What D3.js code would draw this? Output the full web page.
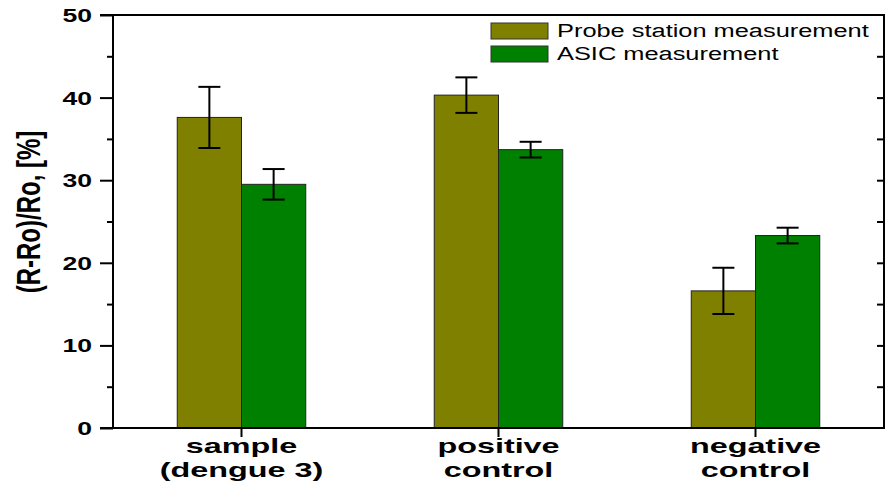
<!DOCTYPE html>
<html>
<head>
<meta charset="utf-8">
<script src="https://cdn.jsdelivr.net/npm/d3@7"></script>
<style>
  body { margin: 0; background: #fff; }
  svg { display: block; font-family: 'Liberation Sans', Arial, sans-serif; }
</style>
</head>
<body>
<svg id="chart" width="885" height="490"></svg>
<script>
const categories = [['sample', '(dengue 3)'], ['positive', 'control'], ['negative', 'control']];
const seriesNames = ['Probe station measurement', 'ASIC measurement'];
const probeValues = [37.6, 40.3, 16.6];
const probeErrors = [3.7, 2.15, 2.8];
const asicValues = [29.5, 33.7, 23.3];
const asicErrors = [1.85, 0.95, 0.95];
const yTicks = [0, 10, 20, 30, 40, 50];
const colors = ['#808000', '#008000'];

window.onload = function() {
    drawChart();
};

function drawChart() {
    let svg = d3.select('#chart');
    let left = 113, right = 884, top = 15, bottom = 428;

    let x = d3.scaleBand()
        .domain(d3.range(categories.length))
        .range([left, right])
        .paddingInner(0.5)
        .paddingOuter(0.25);

    let xSub = d3.scaleBand()
        .domain([0, 1])
        .range([0, x.bandwidth()]);

    let y = d3.scaleLinear()
        .domain([0, 50])
        .range([bottom, top]);

    let series = [
        { values: probeValues, errors: probeErrors },
        { values: asicValues, errors: asicErrors }
    ];

    // bars
    series.forEach((s, si) => {
        svg.append('g').selectAll('rect')
            .data(s.values)
            .enter().append('rect')
            .attr('x', (d, i) => x(i) + xSub(si))
            .attr('y', d => y(d))
            .attr('width', xSub.bandwidth())
            .attr('height', d => y(0) - y(d))
            .attr('fill', colors[si])
            .attr('stroke', '#222')
            .attr('stroke-width', 1);
    });

    // error bars
    series.forEach((s, si) => {
        let g = svg.append('g').attr('stroke', '#000').attr('stroke-width', 2);
        s.values.forEach((v, i) => {
            let cx = x(i) + xSub(si) + xSub.bandwidth() / 2;
            let e = s.errors[i];
            g.append('line').attr('x1', cx).attr('x2', cx).attr('y1', y(v + e)).attr('y2', y(v - e));
            g.append('line').attr('x1', cx - 11).attr('x2', cx + 11).attr('y1', y(v + e)).attr('y2', y(v + e));
            g.append('line').attr('x1', cx - 11).attr('x2', cx + 11).attr('y1', y(v - e)).attr('y2', y(v - e));
        });
    });

    // left axis
    let leftAxis = svg.append('g')
        .attr('transform', `translate(${left},0)`)
        .call(d3.axisLeft(y).tickValues(d3.range(0, 51, 5)).tickSize(0).tickFormat(''));
    leftAxis.select('.domain').remove();
    leftAxis.selectAll('.tick line').remove();
    leftAxis.selectAll('.tick').append('line')
        .attr('x1', d => d % 10 === 0 ? -13 : -6)
        .attr('x2', 0)
        .attr('stroke', '#000')
        .attr('stroke-width', 2);

    svg.append('g').selectAll('text')
        .data(yTicks)
        .enter().append('text')
        .attr('transform', d => `translate(92,${y(d) + 7}) scale(1.4,1)`)
        .attr('text-anchor', 'end')
        .attr('font-size', 19)
        .attr('font-weight', 'bold')
        .text(d => d);

    // right axis, inward ticks
    let rightAxis = svg.append('g')
        .attr('transform', `translate(${right},0)`)
        .call(d3.axisLeft(y).tickValues(d3.range(5, 50, 5)).tickSize(7).tickFormat(''));
    rightAxis.select('.domain').remove();
    rightAxis.selectAll('.tick line').attr('stroke-width', 2);

    // frame
    svg.append('g').attr('stroke', '#000').attr('stroke-width', 2).attr('fill', 'none')
        .append('path')
        .attr('d', `M${left - 13},${top}H${right}V${bottom}H${left - 13}M${left},${top}V${bottom}`);

    // bottom axis ticks
    let bottomAxis = svg.append('g')
        .attr('transform', `translate(0,${bottom})`)
        .call(d3.axisBottom(x).tickSize(9).tickFormat(''));
    bottomAxis.select('.domain').remove();
    bottomAxis.selectAll('.tick line').attr('stroke-width', 2);

    // category labels
    let catLabels = svg.append('g').selectAll('g')
        .data(categories)
        .enter().append('g')
        .attr('transform', (d, i) => `translate(${x(i) + x.bandwidth() / 2},0)`);
    catLabels.each(function(lines) {
        lines.forEach((t, li) => {
            d3.select(this).append('text')
                .attr('transform', `translate(0,${453 + li * 24}) scale(1.54,1)`)
                .attr('text-anchor', 'middle')
                .attr('font-size', 21)
                .attr('font-weight', 'bold')
                .text(t);
        });
    });

    // y label
    svg.append('text')
        .attr('transform', `translate(40,212) scale(1.38,1) rotate(-90)`)
        .attr('text-anchor', 'middle')
        .attr('font-size', 24)
        .attr('font-weight', 'bold')
        .text('(R-Ro)/Ro, [%]');

    // legend
    let legend = svg.append('g');
    seriesNames.forEach((name, i) => {
        legend.append('rect')
            .attr('x', 491).attr('y', 23 + i * 23)
            .attr('width', 57).attr('height', 16)
            .attr('fill', colors[i])
            .attr('stroke', '#333').attr('stroke-width', 1);
        legend.append('text')
            .attr('transform', `translate(557,${37 + i * 23}) scale(1.41,1)`)
            .attr('font-size', 18)
            .text(name);
    });
}
</script>
</body>
</html>
